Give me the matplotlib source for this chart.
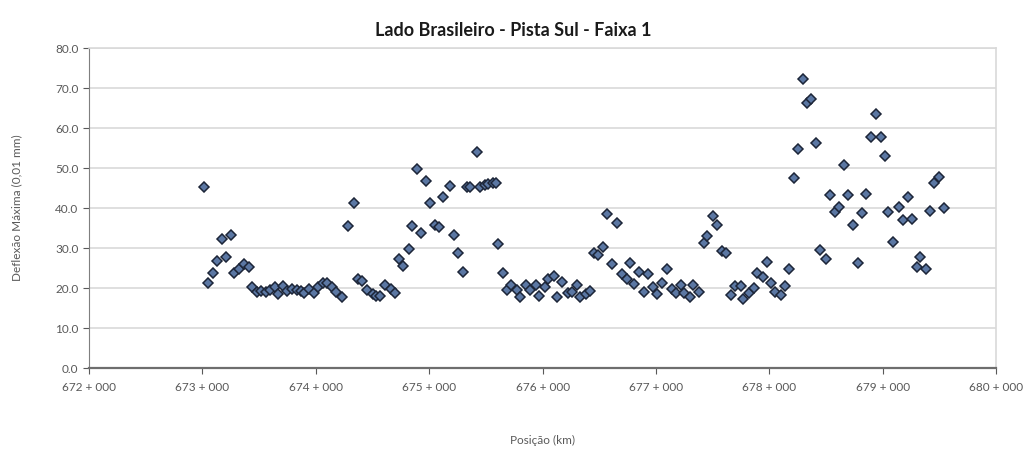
"""
Deflexao maxima ao longo da pista -- Lado Brasileiro, Pista Sul, Faixa 1.
Scatter of max deflection (0,01 mm) against position (km).
"""
import matplotlib

matplotlib.use("Agg")
import matplotlib.pyplot as plt
from matplotlib.ticker import FuncFormatter

# --- data: position (km) and max deflection (0,01 mm) ---
posicao_km = [
    673.01, 673.05, 673.09, 673.13, 673.17, 673.21, 673.25, 673.28, 673.32, 673.37,
    673.41, 673.44, 673.48, 673.52, 673.56, 673.60, 673.64, 673.67, 673.71, 673.75,
    673.79, 673.83, 673.87, 673.90, 673.94, 673.98, 674.02, 674.06, 674.10, 674.14,
    674.18, 674.23, 674.28, 674.34, 674.37, 674.41, 674.45, 674.50, 674.53, 674.57,
    674.61, 674.66, 674.70, 674.73, 674.77, 674.82, 674.85, 674.89, 674.93, 674.97,
    675.01, 675.05, 675.09, 675.12, 675.18, 675.22, 675.25, 675.30, 675.33, 675.36,
    675.42, 675.45, 675.49, 675.52, 675.56, 675.59, 675.61, 675.65, 675.69, 675.72,
    675.77, 675.80, 675.85, 675.89, 675.94, 675.97, 676.02, 676.05, 676.10, 676.13,
    676.17, 676.22, 676.26, 676.30, 676.33, 676.38, 676.42, 676.45, 676.49, 676.53,
    676.57, 676.61, 676.66, 676.70, 676.74, 676.77, 676.81, 676.85, 676.89, 676.93,
    676.97, 677.01, 677.05, 677.10, 677.14, 677.18, 677.22, 677.25, 677.30, 677.33,
    677.38, 677.42, 677.45, 677.50, 677.54, 677.58, 677.62, 677.66, 677.70, 677.75,
    677.77, 677.82, 677.86, 677.89, 677.94, 677.98, 678.01, 678.05, 678.10, 678.14,
    678.17, 678.22, 678.25, 678.30, 678.33, 678.37, 678.41, 678.45, 678.50, 678.53,
    678.58, 678.61, 678.66, 678.69, 678.74, 678.78, 678.82, 678.85, 678.90, 678.94,
    678.98, 679.02, 679.05, 679.09, 679.14, 679.18, 679.22, 679.26, 679.30, 679.33,
    679.38, 679.42, 679.45, 679.50, 679.54,
]
deflexao = [
    45.3, 21.4, 23.9, 26.7, 32.4, 27.7, 33.2, 23.9, 24.9, 26.0,
    25.3, 20.3, 19.1, 19.3, 19.0, 19.5, 20.2, 18.6, 20.6, 19.3,
    19.9, 19.6, 19.2, 18.9, 19.8, 18.7, 20.3, 21.2, 21.3, 20.3,
    19.1, 17.8, 35.5, 41.3, 22.2, 21.8, 19.5, 18.5, 18.1, 18.1,
    20.8, 19.7, 18.7, 27.2, 25.5, 29.8, 35.5, 49.7, 33.8, 46.8,
    41.2, 35.8, 35.2, 42.7, 45.5, 33.2, 28.8, 24.1, 45.2, 45.2,
    54.1, 45.3, 45.7, 46.0, 46.2, 46.4, 31.0, 23.7, 19.5, 20.8,
    19.5, 17.8, 20.8, 19.5, 20.8, 18.1, 20.3, 22.4, 23.1, 17.7,
    21.6, 18.7, 19.1, 20.8, 17.8, 18.5, 19.3, 28.7, 28.2, 30.3,
    38.5, 26.0, 36.4, 23.5, 22.4, 26.2, 21.0, 24.1, 19.1, 23.5,
    20.3, 18.5, 21.3, 24.9, 19.9, 18.9, 20.8, 18.7, 17.7, 20.8,
    19.1, 31.3, 33.0, 38.0, 35.9, 29.3, 28.7, 18.3, 20.5, 20.5,
    17.4, 18.7, 20.1, 23.7, 22.8, 26.6, 21.4, 19.1, 18.3, 20.5,
    24.7, 47.6, 54.7, 72.4, 66.3, 67.4, 56.3, 29.5, 27.3, 43.3,
    39.1, 40.3, 50.7, 43.3, 35.9, 26.2, 38.8, 43.5, 57.8, 63.5,
    57.7, 53.1, 39.1, 31.6, 40.3, 37.0, 42.7, 37.2, 25.3, 27.8,
    24.9, 39.3, 46.4, 47.7, 40.1,
]

x_ticks = [672, 673, 674, 675, 676, 677, 678, 679, 680]
y_ticks = [0, 10, 20, 30, 40, 50, 60, 70, 80]

TITLE = "Lado Brasileiro - Pista Sul - Faixa 1"
XLABEL = "Posição (km)"
YLABEL = "Deflexão Máxima (0,01 mm)"


def km_label(v, _pos):
    # Stationing style used in road projects: "673 + 000"
    return f"{int(round(v))} + 000"


def main() -> None:
    plt.rcParams["font.family"] = ["Lato", "DejaVu Sans"]

    fig = plt.figure(figsize=(10.27, 4.5), dpi=100)
    ax = fig.add_axes([0.0867, 0.182, 0.8833, 0.711])

    ax.plot(
        posicao_km, deflexao, linestyle="none", marker="D", markersize=5.4,
        markerfacecolor="#5B77A3", markeredgecolor="#1C2538",
        markeredgewidth=1.1, zorder=3,
    )

    ax.set_xlim(672, 680)
    ax.set_ylim(0, 80)
    ax.set_xticks(x_ticks)
    ax.set_yticks(y_ticks)
    ax.xaxis.set_major_formatter(FuncFormatter(km_label))
    ax.yaxis.set_major_formatter(FuncFormatter(lambda v, p: f"{v:.1f}"))

    # light horizontal gridlines, like the spreadsheet default
    ax.grid(axis="y", color="#D9D9D9", linewidth=1.2, zorder=0)
    ax.set_axisbelow(True)

    for side in ("top", "right"):
        ax.spines[side].set_color("#D9D9D9")
        ax.spines[side].set_linewidth(1.2)
    ax.spines["left"].set_color("#7F7F7F")
    ax.spines["left"].set_linewidth(0.8)
    ax.spines["bottom"].set_color("#6E6E6E")
    ax.spines["bottom"].set_linewidth(1.6)

    ax.tick_params(axis="both", labelsize=8.5, colors="#595959", length=4, width=0.8)
    ax.tick_params(axis="x", pad=6)

    ax.set_xlabel(XLABEL, fontsize=8.5, color="#595959", labelpad=30)
    ax.set_ylabel(YLABEL, fontsize=8.5, color="#595959", labelpad=24)
    fig.suptitle(TITLE, fontsize=13, fontweight="bold", color="#1A1A1A", y=0.95)

    fig.savefig("out.png", dpi=100)
    plt.close(fig)


if __name__ == "__main__":
    main()
